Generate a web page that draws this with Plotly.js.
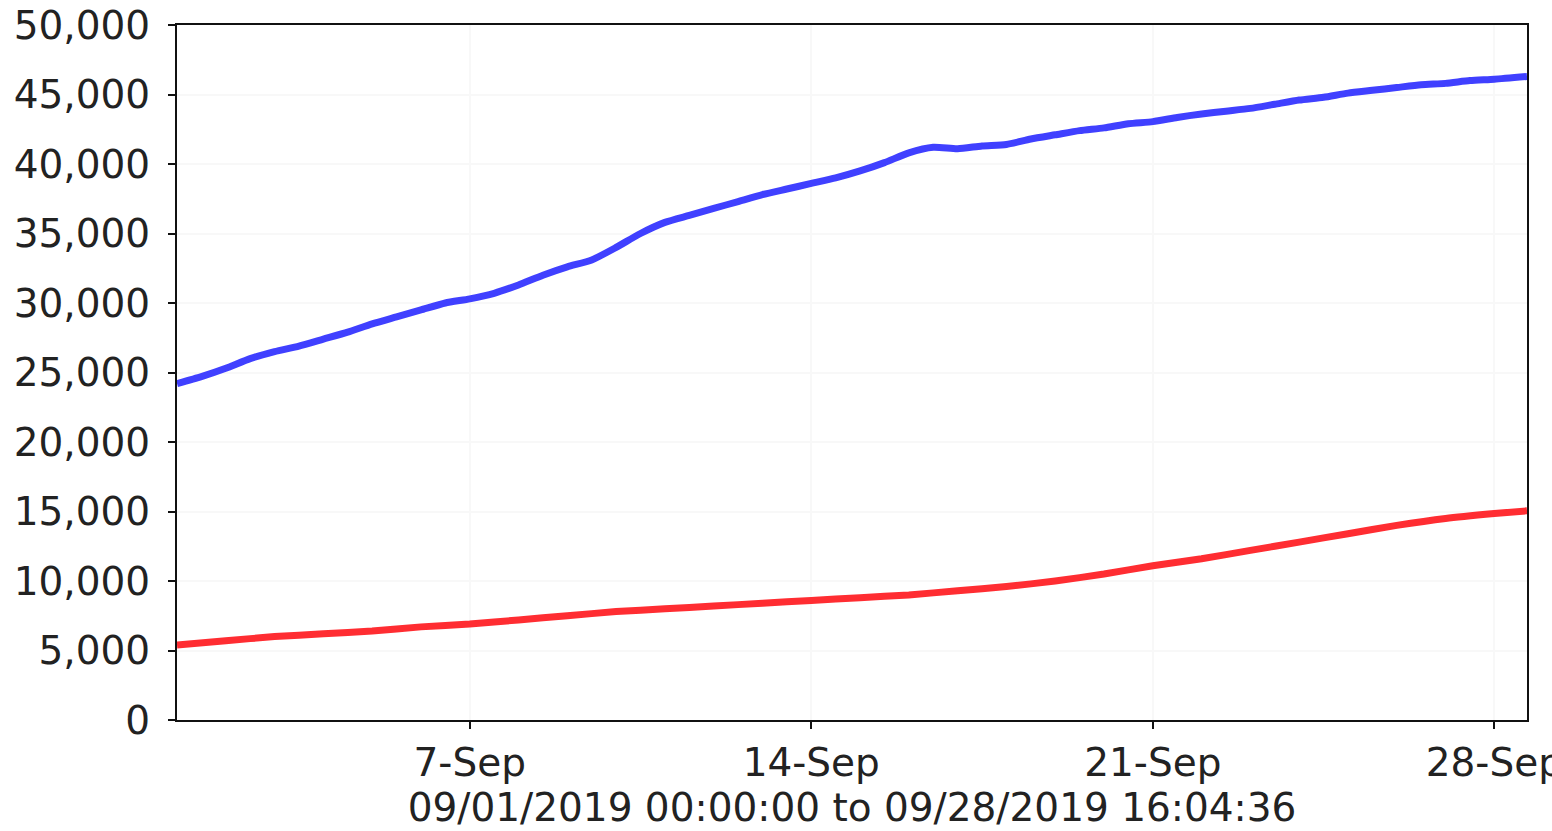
<!DOCTYPE html>
<html>
<head>
<meta charset="utf-8">
<script src="https://cdn.plot.ly/plotly-3.0.1.min.js"></script>
<style>html,body{margin:0;padding:0;background:#fff;}#chart{width:1552px;height:831px;}</style>
</head>
<body>
<div id="chart"></div>
<script>
// Blue series, sampled every 12 hours from 2019-09-01 00:00
const blueTimes = [
  "2019-09-01 00:00","2019-09-01 12:00","2019-09-02 00:00","2019-09-02 12:00","2019-09-03 00:00","2019-09-03 12:00",
  "2019-09-04 00:00","2019-09-04 12:00","2019-09-05 00:00","2019-09-05 12:00","2019-09-06 00:00","2019-09-06 12:00",
  "2019-09-07 00:00","2019-09-07 12:00","2019-09-08 00:00","2019-09-08 12:00","2019-09-09 00:00","2019-09-09 12:00",
  "2019-09-10 00:00","2019-09-10 12:00","2019-09-11 00:00","2019-09-11 12:00","2019-09-12 00:00","2019-09-12 12:00",
  "2019-09-13 00:00","2019-09-13 12:00","2019-09-14 00:00","2019-09-14 12:00","2019-09-15 00:00","2019-09-15 12:00",
  "2019-09-16 00:00","2019-09-16 12:00","2019-09-17 00:00","2019-09-17 12:00","2019-09-18 00:00","2019-09-18 12:00",
  "2019-09-19 00:00","2019-09-19 12:00","2019-09-20 00:00","2019-09-20 12:00","2019-09-21 00:00","2019-09-21 12:00",
  "2019-09-22 00:00","2019-09-22 12:00","2019-09-23 00:00","2019-09-23 12:00","2019-09-24 00:00","2019-09-24 12:00",
  "2019-09-25 00:00","2019-09-25 12:00","2019-09-26 00:00","2019-09-26 12:00","2019-09-27 00:00","2019-09-27 12:00",
  "2019-09-28 00:00","2019-09-28 16:04:36"
];
const blueValues = [
  24200,24700,25300,26000,26500,26900,
  27400,27900,28500,29000,29500,30000,
  30300,30700,31300,32000,32600,33100,
  34000,35000,35800,36300,36800,37300,
  37800,38200,38600,39000,39500,40100,
  40800,41200,41100,41300,41400,41800,
  42100,42400,42600,42900,43050,43350,
  43600,43800,44000,44300,44600,44800,
  45100,45300,45500,45700,45800,46000,
  46100,46300
];
// Red series, sampled daily
const redTimes = [
  "2019-09-01 00:00","2019-09-02 00:00","2019-09-03 00:00","2019-09-04 00:00","2019-09-05 00:00","2019-09-06 00:00",
  "2019-09-07 00:00","2019-09-08 00:00","2019-09-09 00:00","2019-09-10 00:00","2019-09-11 00:00","2019-09-12 00:00",
  "2019-09-13 00:00","2019-09-14 00:00","2019-09-15 00:00","2019-09-16 00:00","2019-09-17 00:00","2019-09-18 00:00",
  "2019-09-19 00:00","2019-09-20 00:00","2019-09-21 00:00","2019-09-22 00:00","2019-09-23 00:00","2019-09-24 00:00",
  "2019-09-25 00:00","2019-09-26 00:00","2019-09-27 00:00","2019-09-28 00:00","2019-09-28 16:04:36"
];
const redValues = [
  5400,5700,6000,6200,6400,6700,
  6900,7200,7500,7800,8000,8200,
  8400,8600,8800,9000,9300,9600,
  10000,10500,11100,11600,12200,12800,
  13400,14000,14500,14850,15050
];
const xTickVals = ["2019-09-07","2019-09-14","2019-09-21","2019-09-28"];
const xTickText = ["7-Sep","14-Sep","21-Sep","28-Sep"];
const xRange = ["2019-09-01 00:00:00","2019-09-28 16:04:36"];
const xTitle = "09/01/2019 00:00:00 to 09/28/2019 16:04:36";
const yTickVals = [0,5000,10000,15000,20000,25000,30000,35000,40000,45000,50000];

const font = {family: "DejaVu Sans, sans-serif", size: 39, color: "#222"};

const data = [
  {x: blueTimes, y: blueValues, type: "scatter", mode: "lines",
   line: {color: "rgb(64,64,255)", width: 7, shape: "spline", smoothing: 0.6}, hoverinfo: "x+y"},
  {x: redTimes, y: redValues, type: "scatter", mode: "lines",
   line: {color: "rgb(255,45,50)", width: 7, shape: "spline", smoothing: 0.6}, hoverinfo: "x+y"}
];

const layout = {
  width: 1552, height: 831,
  margin: {l: 177, r: 25, t: 25, b: 111, pad: 0},
  paper_bgcolor: "#fff", plot_bgcolor: "#fff",
  showlegend: false,
  font: font,
  xaxis: {
    type: "date", range: xRange,
    tickvals: xTickVals, ticktext: xTickText,
    showline: true, linecolor: "#111", linewidth: 2, mirror: true,
    ticks: "outside", ticklen: 7, tickwidth: 2, tickcolor: "#111",
    showgrid: true, gridcolor: "#f8f8f8", gridwidth: 2,
    zeroline: false, automargin: false,
    ticklabeloverflow: "allow",
    tickfont: font,
    title: {text: xTitle, font: font, standoff: 2}
  },
  yaxis: {
    range: [0, 50000], tickvals: yTickVals, tickformat: ",d",
    showline: true, linecolor: "#111", linewidth: 2, mirror: true,
    ticks: "outside", ticklen: 7, tickwidth: 2, tickcolor: "#111",
    showgrid: true, gridcolor: "#f8f8f8", gridwidth: 2,
    zeroline: false, automargin: false,
    ticklabelstandoff: 10,
    ticklabeloverflow: "allow",
    tickfont: font
  }
};

Plotly.newPlot("chart", data, layout, {displayModeBar: false, staticPlot: true});
</script>
</body>
</html>
